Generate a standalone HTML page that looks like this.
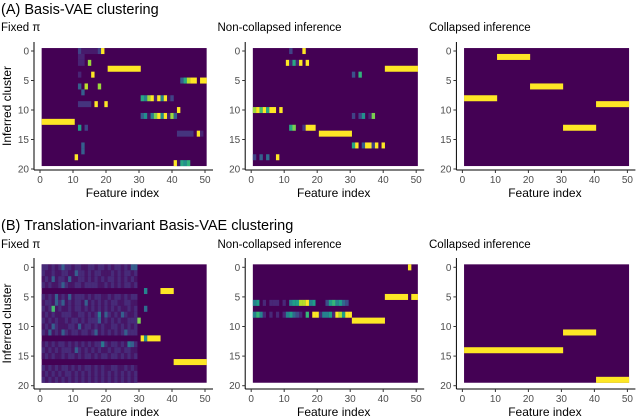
<!DOCTYPE html>
<html><head><meta charset="utf-8"><style>
html,body{margin:0;padding:0;background:#fff}
svg{display:block;font-family:"Liberation Sans",sans-serif}
</style></head><body>
<svg id="fig" width="636" height="418" viewBox="0 0 636 418"></svg>
<script>
// ---- data: [row, featStart, featEnd, value(0..1)] ----
const a1Cells=[[0,12,12,.2],[0,13,17,.07],[0,18,18,.2],[0,19,19,1],[1,12,13,.1],[2,12,13,.1],[2,15,15,.85],[3,21,30,1],[4,12,12,.1],[4,16,16,1],
[5,43,43,.3],[5,44,44,.6],[5,45,45,.9],[5,46,47,1],[5,49,50,1],[6,12,12,.3],[6,14,14,.9],[6,18,18,.85],[7,13,13,.3],
[8,31,31,.6],[8,32,32,.45],[8,33,33,.85],[8,34,34,1],[8,35,35,.1],[8,36,36,1],[8,37,37,.45],[8,38,38,1],[8,39,39,.05],[8,40,40,.2],
[9,12,15,.15],[9,17,17,1],[9,20,20,1],[10,42,42,1],
[11,31,31,.3],[11,32,32,.5],[11,33,33,.05],[11,34,34,.45],[11,35,35,.8],[11,36,36,1],[11,37,37,.5],[11,38,38,1],[11,39,39,.1],[11,40,40,.85],[11,41,41,.3],
[12,1,10,1],[13,12,12,.55],[13,14,14,.2],[14,42,46,.15],[14,48,48,1],[14,49,49,.1],[16,13,13,.3],[17,13,13,.3],[18,11,11,1],
[19,41,41,1],[19,42,42,.05],[19,43,43,.6],[19,44,44,.5],[19,45,45,.65]];
const a2Cells=[[0,12,12,.2],[0,16,16,1],[2,11,11,1],[2,12,12,.1],[2,13,13,.6],[2,14,14,.1],[2,15,15,1],[2,17,17,1],[3,41,50,1],[4,31,31,.25],[4,33,33,.65],
[10,1,1,.85],[10,2,2,1],[10,3,3,.7],[10,4,4,1],[10,5,5,.6],[10,6,7,1],[10,9,9,1],
[11,31,31,.2],[11,33,33,.2],[11,34,34,.5],[11,36,36,.1],[11,37,37,.8],
[13,12,12,.6],[13,13,13,.8],[13,16,16,.15],[13,17,19,1],[14,21,30,1],
[16,31,31,.6],[16,32,32,1],[16,34,34,.3],[16,35,36,1],[16,37,37,.2],[16,38,38,1],[16,40,40,1],
[18,1,1,.2],[18,3,3,.3],[18,5,5,.35],[18,8,8,1]];
const a3Cells=[[1,11,20,1],[6,21,30,1],[8,1,10,1],[9,41,50,1],[13,31,40,1]];
const b3Cells=[[11,31,40,1],[14,1,30,1],[19,41,50,1]];
const b2Row6="45010111010455889450002564532";
const b2Row8="464101010145321060991445198599";
const b2Cells=[[0,48,48,1],[5,41,47,1],[5,49,50,1],[9,31,40,1]];
// fixed-pi translation-invariant: low-level noise rows (digit level), features 1..29
const b1Noise=[
"22121232212211221221212212133",
"21121122113221212211121212212",
"12131221311221212121221212121",
"21211232112212222112121212212",
"",
"21213121312221212211212212122",
"12213231212213121212122112211",
"21211211212212121212121211212",
"12121122211221212413212132112",
"21212112122121222312121211222",
"12132111221312212121122121212",
"21312132122122123121212123222",
"",
"12121221212121212242122121432",
"21212122213212121211212212211",
"12121121221212212122122121212",
"",
"21212122121212212121122112121",
"12121212212121212121212121212",
"21212121212121212121212121212"];
const b1Cells=[[4,32,32,.45],[4,37,40,1],[7,4,4,.7],[7,32,32,.35],[9,30,30,.8],[12,31,31,1],[12,32,32,.5],[12,33,36,1],[16,41,50,1]];
const xTicks=[0,10,20,30,40,50];
const yTicks=[0,5,10,15,20];

const NS="http://www.w3.org/2000/svg";
const svg=document.getElementById('fig');
const vir=[[68,1,84],[72,40,120],[62,74,137],[49,104,142],[38,130,142],[31,158,137],[53,183,121],[109,205,89],[180,222,44],[253,231,37]];
function viridis(v){v=Math.max(0,Math.min(1,v))*9;const i=Math.min(8,Math.floor(v)),t=v-i;const a=vir[i],b=vir[i+1];
return `rgb(${Math.round(a[0]+(b[0]-a[0])*t)},${Math.round(a[1]+(b[1]-a[1])*t)},${Math.round(a[2]+(b[2]-a[2])*t)})`;}
function mk(tag,attrs,parent){const e=document.createElementNS(NS,tag);for(const k in attrs)e.setAttribute(k,attrs[k]);(parent||svg).appendChild(e);return e;}
function txt(s,attrs,parent){const e=mk('text',attrs,parent);e.textContent=s;return e;}
function level(d){return d<3?d*0.06:d/10;}

function panel(col,rowTop,name,title,cells,extra){
  const g=mk('g',{});
  
  
  const x0=40+col*211.2, y0=rowTop?51:267.3, ys=rowTop?5.9:5.92;
  const xs=f=>x0+3.3*f, yc=r=>y0+ys*r;
  const hm=mk('rect',{x:xs(.5),y:yc(-.5),width:xs(50.5)-xs(.5),height:yc(19.5)-yc(-.5),fill:viridis(0)},g);
  
  
  const draw=(r,a,b,v)=>{const c=mk('rect',{x:xs(a-.5),y:yc(r-.5),width:xs(b+.5)-xs(a-.5)+.1,height:ys+.1,fill:viridis(v)},g);
    
    };
  if(extra)extra(draw);
  cells.forEach(c=>draw(c[0],c[1],c[2],c[3]));
  const ax=x0-6, axB=rowTop?170:389, axT=rowTop?42:258;
  const yl=mk('line',{x1:ax,y1:axT,x2:ax,y2:axB,stroke:'#000','stroke-width':1},g);
  
  
  const xl=mk('line',{x1:ax,y1:axB,x2:xs(50)+8,y2:axB,stroke:'#000','stroke-width':1},g);
  
  
  yTicks.forEach(t=>{mk('line',{x1:ax-3,x2:ax,y1:yc(t),y2:yc(t),stroke:'#333'},g);
    const l=txt(String(t),{x:ax-5,y:yc(t)+3.5,'font-size':10,fill:'#4d4d4d','text-anchor':'end'},g);
    
    });
  xTicks.forEach(t=>{mk('line',{x1:xs(t),x2:xs(t),y1:axB,y2:axB+3,stroke:'#333'},g);
    const l=txt(String(t),{x:xs(t),y:axB+13,'font-size':10,fill:'#4d4d4d','text-anchor':'middle'},g);
    
    });
  const xt=txt('Feature index',{x:xs(25),y:axB+27,'font-size':12,'text-anchor':'middle'},g);
  
  
  const tt=txt(title,{x:col*211.5+(col?5:0)+1,y:rowTop?31:248,'font-size':11.5},g);
  
  
  if(col===0){const yt=txt('Inferred cluster',{x:0,y:0,'font-size':12,'text-anchor':'middle',transform:`translate(11,${(axT+axB)/2}) rotate(-90)`},g);
    
    }
}
const hA=txt('(A) Basis-VAE clustering',{x:1,y:14,'font-size':14.5});


const hB=txt('(B) Translation-invariant Basis-VAE clustering',{x:1,y:230,'font-size':14.5});



panel(0,true,'panel-a-fixed-pi','Fixed π',a1Cells);
panel(1,true,'panel-a-non-collapsed','Non-collapsed inference',a2Cells);
panel(2,true,'panel-a-collapsed','Collapsed inference',a3Cells);
panel(0,false,'panel-b-fixed-pi','Fixed π',b1Cells,draw=>{
  b1Noise.forEach((s,r)=>{for(let i=0;i<s.length;i++)draw(r,i+1,i+1,level(+s[i]));});});
panel(1,false,'panel-b-non-collapsed','Non-collapsed inference',b2Cells,draw=>{
  for(let i=0;i<b2Row6.length;i++)draw(6,i+1,i+1,(+b2Row6[i])/9);
  for(let i=0;i<b2Row8.length;i++)draw(8,i+1,i+1,(+b2Row8[i])/9);});
panel(2,false,'panel-b-collapsed','Collapsed inference',b3Cells);
</script>
</body></html>
